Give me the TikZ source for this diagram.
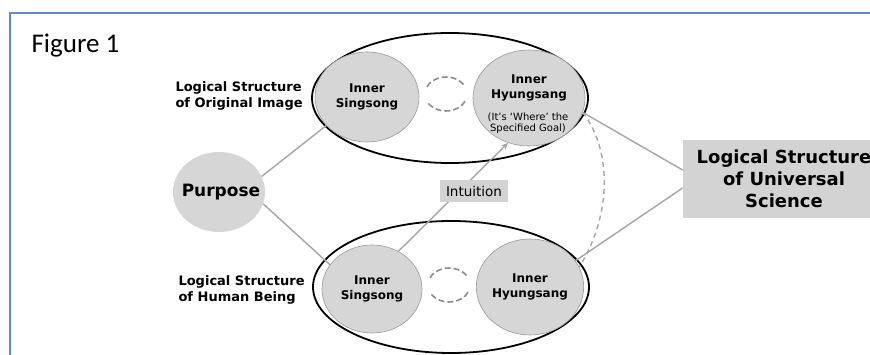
\documentclass[tikz,border=0pt]{standalone}
\usepackage{fontspec}
\setmainfont{DejaVu Sans}
\newfontfamily\figfont{Carlito}
\usetikzlibrary{shapes.geometric,arrows.meta}
\definecolor{frameblue}{HTML}{5B8BD0}
\definecolor{bubblegray}{HTML}{D6D6D6}
\definecolor{boxgray}{HTML}{D3D3D3}
\definecolor{linkgray}{HTML}{A6A6A6}
\begin{document}
\begin{tikzpicture}[x=1pt,y=-1pt,
  bubble/.style={ellipse, fill=bubblegray, draw=black!40, line width=0.6pt, inner sep=0pt, align=center, font=\bfseries\fontsize{12}{15}\selectfont},
  frameell/.style={ellipse, draw=black, line width=1.8pt, inner sep=0pt},
  link/.style={draw=linkgray, line width=1.4pt},
  dlink/.style={link, dash pattern=on 5pt off 4pt},
  cyc/.style={draw=black!45, line width=1.6pt, dash pattern=on 6pt off 3pt},
  sidelabel/.style={anchor=west, align=left, font=\bfseries\fontsize{13}{16}\selectfont},
  greybox/.style={rectangle, fill=boxgray, inner sep=1pt}]
\useasboundingbox (0,0) rectangle (870,355);
\clip (0,0) rectangle (870,355);
\fill[white] (0,0) rectangle (870,355);
% frame
\draw[frameblue, line width=2pt] (872,13) -- (10,13) -- (10,357);
\node[anchor=base west, font=\figfont\fontsize{27}{30}\selectfont] (fig) at (28,53) {Figure 1};
% big ellipses
\node[frameell, minimum width=276pt, minimum height=130pt] (elT) at (450,98) {};
\node[frameell, minimum width=276pt, minimum height=132pt] (elB) at (451,287) {};
% bubbles
\node[bubble, minimum width=104pt, minimum height=90pt] (sgT) at (367,97) {Inner\\Singsong};
\node[bubble, minimum width=112pt, minimum height=96pt] (hyT) at (529,98) {};
\node[align=center, inner sep=0pt, font=\bfseries\fontsize{12}{15}\selectfont] (hyTtext) at (529,88) {Inner\\Hyungsang};
\node[align=center, inner sep=0pt, font=\fontsize{10}{11.5}\selectfont] (hyTnote) at (528,123) {(It's `Where' the\\Specified Goal)};
\node[bubble, minimum width=100pt, minimum height=88pt] (sgB) at (372,289) {Inner\\Singsong};
\node[bubble, minimum width=106pt, minimum height=96pt] (hyB) at (530,287) {Inner\\Hyungsang};
\node[ellipse, fill=bubblegray, inner sep=0pt, minimum width=92pt, minimum height=80pt] (purpose) at (219,192) {};
\node[font=\bfseries\fontsize{17}{20}\selectfont] (purposetext) at (221,192) {Purpose};
% side labels
\node[sidelabel] (labT) at (172,96) {Logical Structure\\of Original Image};
\node[sidelabel] (labB) at (175,290) {Logical Structure\\of Human Being};
% universal science box
\node[greybox, minimum width=202pt, minimum height=78pt, align=center, font=\bfseries\fontsize{18}{22}\selectfont] (lsus) at (784,179) {Logical Structure\\of Universal\\Science};
% circular arrows
\coordinate (cyT) at (446,94);
\coordinate (cyB) at (449,285);
\draw[cyc] (cyT) ++(25:21 and 17) arc[start angle=25, end angle=155, x radius=21, y radius=17];
\draw[cyc] (cyT) ++(205:21 and 17) arc[start angle=205, end angle=335, x radius=21, y radius=17];
\draw[cyc] (cyB) ++(25:21 and 17) arc[start angle=25, end angle=155, x radius=21, y radius=17];
\draw[cyc] (cyB) ++(205:21 and 17) arc[start angle=205, end angle=335, x radius=21, y radius=17];
% connectors
\draw[link] (purpose.20) -- (sgT.215);
\draw[link] (purpose.-15) -- (sgB.150);
\draw[link] (hyT.-15) -- (lsus.175);
\draw[link] (hyB.30) -- (lsus.185);
\draw[dlink] (hyT.-15) .. controls (612,150) and (612,215) .. (hyB.22);
\draw[link, -{Stealth[length=7pt,width=6pt]}] (sgB.55) -- (hyT.245);
\node[greybox, minimum width=68pt, minimum height=22pt, font=\fontsize{13.5}{15}\selectfont] (intu) at (474,191) {Intuition};
\end{tikzpicture}
\end{document}
